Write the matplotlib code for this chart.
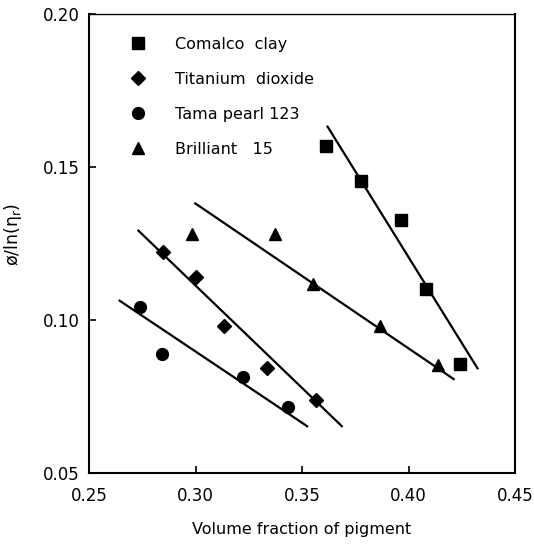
import matplotlib
matplotlib.use("Agg")
import matplotlib.pyplot as plt

# Data
clay_x = [0.3615, 0.3775, 0.3964, 0.4084, 0.4244]
clay_y = [0.1570, 0.1453, 0.1327, 0.1102, 0.0857]
clay_fit_x = [0.362, 0.4324]
clay_fit_y = [0.1632, 0.0842]

tio2_x = [0.2849, 0.3004, 0.3132, 0.3335, 0.3567]
tio2_y = [0.1222, 0.1141, 0.0982, 0.0843, 0.0738]
tio2_fit_x = [0.2732, 0.3687]
tio2_fit_y = [0.1292, 0.0653]

tama_x = [0.2740, 0.2841, 0.3225, 0.3436]
tama_y = [0.1043, 0.0888, 0.0814, 0.0715]
tama_fit_x = [0.2644, 0.3524]
tama_fit_y = [0.1063, 0.0653]

bril_x = [0.2985, 0.3372, 0.3551, 0.3868, 0.4140]
bril_y = [0.1281, 0.1281, 0.1119, 0.0980, 0.0854]
bril_fit_x = [0.2999, 0.4212]
bril_fit_y = [0.1381, 0.0807]

labels = ["Comalco  clay", "Titanium  dioxide", "Tama pearl 123", "Brilliant   15"]
x_ticks = [0.25, 0.30, 0.35, 0.40, 0.45]
y_ticks = [0.05, 0.10, 0.15, 0.20]

fig = plt.figure(figsize=(5.34, 5.51), dpi=100)
ax = fig.add_axes([89/534, 1 - 473/551, (515-89)/534, (473-14)/551])

series = [
    (clay_x, clay_y, clay_fit_x, clay_fit_y, "s", 8),
    (tio2_x, tio2_y, tio2_fit_x, tio2_fit_y, "D", 7.2),
    (tama_x, tama_y, tama_fit_x, tama_fit_y, "o", 8.5),
    (bril_x, bril_y, bril_fit_x, bril_fit_y, "^", 8.5),
]
handles = []
for (sx, sy, fx, fy, m, ms), lab in zip(series, labels):
    ax.plot(fx, fy, color="black", lw=1.6, zorder=2)
    h, = ax.plot(sx, sy, linestyle="none", marker=m, markersize=ms,
                 color="black", zorder=3, label=lab)
    handles.append(h)

leg = ax.legend(handles=handles, loc="upper left", frameon=False,
                bbox_to_anchor=(0.07, 0.975), fontsize=11.5,
                labelspacing=1.25, handletextpad=1.8, handlelength=1.0,
                borderaxespad=0.3)

ax.set_xlim(0.25, 0.45)
ax.set_ylim(0.05, 0.20)
ax.set_xticks(x_ticks)
ax.set_yticks(y_ticks)
ax.set_xticklabels([f"{v:.2f}" for v in x_ticks], fontsize=12)
ax.set_yticklabels([f"{v:.2f}" for v in y_ticks], fontsize=12)
ax.tick_params(direction="in", length=5, width=1.2)
ax.tick_params(axis="x", pad=10)
ax.tick_params(axis="y", pad=7)
for s in ["left", "bottom", "right"]:
    ax.spines[s].set_linewidth(1.5)
ax.spines["top"].set_linewidth(1.0)

ax.set_xlabel("Volume fraction of pigment", fontsize=11.5, labelpad=12)
ax.set_ylabel(r"ø/ln(η$_\mathregular{r}$)", fontsize=12.5)
ax.yaxis.set_label_coords(-0.152, 0.52)

fig.savefig("out.png", dpi=100)
